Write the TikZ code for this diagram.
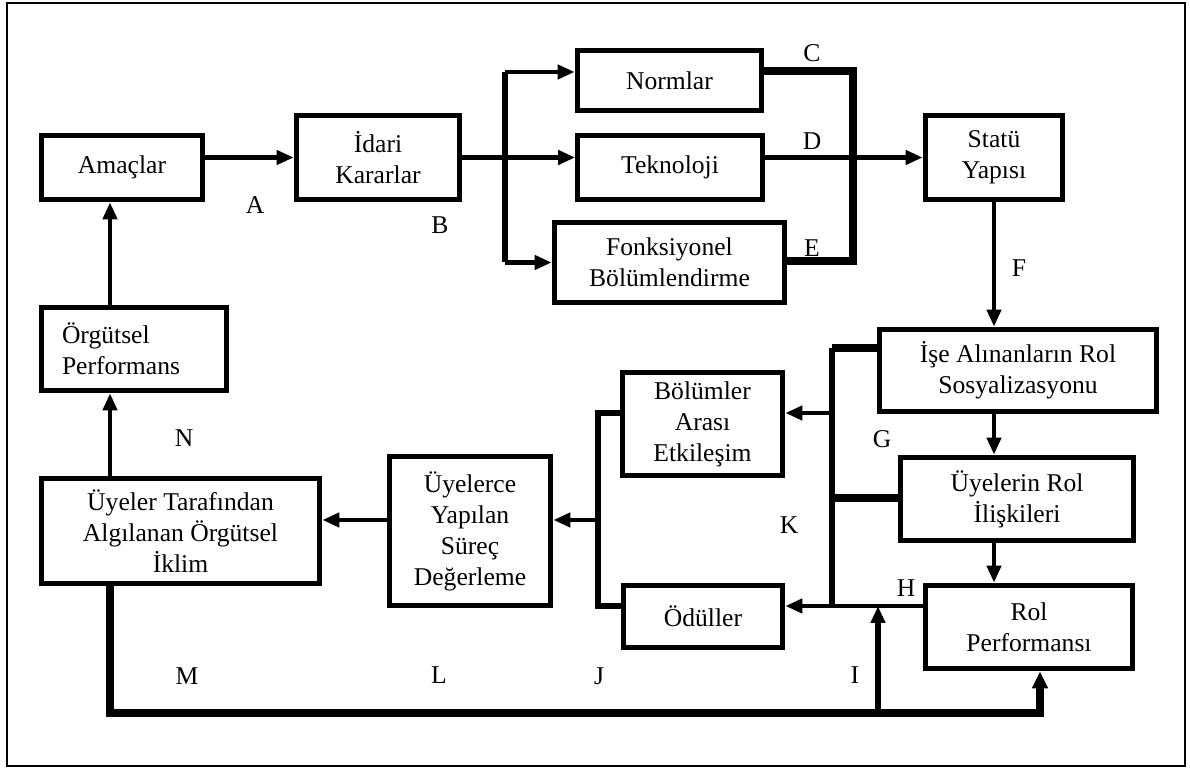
\documentclass[tikz,border=0pt]{standalone}
\usepackage{fontspec}
\setmainfont{Liberation Serif}
\usetikzlibrary{arrows.meta}
\begin{document}
\begin{tikzpicture}[x=0.5pt,y=-0.5pt,
  txt/.style={font=\fontsize{12.8pt}{15.5pt}\selectfont},
  box/.style={txt, draw, line width=2.6pt, inner sep=0pt, align=center},
  lbl/.style={txt, inner sep=0pt},
  arr/.style={line width=2.2pt, -{Triangle[length=8.5pt,width=7pt]}},
  bus/.style={line width=3pt},
  heavy/.style={line width=3.6pt}]
\useasboundingbox (0,0) rectangle (1190,769);
\draw[line width=0.75pt] (7,3) rectangle (1185,766);

% boxes
\node[box, minimum width=80.75pt, minimum height=32.25pt] (amac) at (122,167.5) {Amaçlar};
\node[box, minimum width=81.75pt, minimum height=42.25pt] (idari) at (378,157.5) {İdari\\Kararlar};
\node[box, minimum width=92.25pt, minimum height=30.25pt] (norm) at (669.5,80.5) {Normlar};
\node[box, minimum width=92.25pt, minimum height=32.25pt] (tekno) at (670,167.5) {Teknoloji};
\node[box, minimum width=115.25pt, minimum height=40.25pt] (fonk) at (669.5,262.5) {Fonksiyonel\\Bölümlendirme};
\node[box, minimum width=68.75pt, minimum height=42.25pt] (statu) at (994,157.5) {Statü\\Yapısı};
\node[box, minimum width=138.75pt, minimum height=41.25pt] (ise) at (1018,370.5) {İşe Alınanların Rol\\Sosyalizasyonu};
\node[box, minimum width=116.75pt, minimum height=41.75pt] (uyelerin) at (1017,499) {Üyelerin Rol\\İlişkileri};
\node[box, minimum width=103.75pt, minimum height=41.75pt] (rolp) at (1029,627) {Rol\\Performansı};
\node[box, minimum width=80.25pt, minimum height=51.75pt] (bolum) at (702.5,424) {Bölümler\\Arası\\Etkileşim};
\node[box, minimum width=79.75pt, minimum height=31.25pt] (odul) at (703,616.5) {Ödüller};
\node[box, minimum width=80.75pt, minimum height=74.75pt] (uyelerce) at (470,531) {Üyelerce\\Yapılan\\Süreç\\Değerleme};
\node[box, minimum width=139.25pt, minimum height=52.75pt] (iklim) at (180.5,531) {Üyeler Tarafından\\Algılanan Örgütsel\\İklim};
\node[box, minimum width=92.75pt, minimum height=41.75pt, text width=72pt, align=left] (orgut) at (134,349) {Örgütsel\\Performans};

% junction points
\coordinate (bt) at (505,72);
\coordinate (bb) at (505,262.5);
\coordinate (rt) at (853,71);
\coordinate (rb) at (853,261);
\coordinate (lt) at (832,348);
\coordinate (lm) at (832,498);
\coordinate (lb) at (832,606);
\coordinate (lbol) at (832,413);
\coordinate (jt) at (598,413);
\coordinate (jm) at (598,520);
\coordinate (jb) at (598,606);
\coordinate (hh) at (878,606);
\coordinate (ib) at (878,713);
\coordinate (ml) at (110,713);
\coordinate (mr) at (1040,713);

% top row
\draw[arr] (amac.east |- idari.east) -- (idari.west);
\draw[arr] (idari.east) -- (tekno.west |- idari.east);
\draw[bus] (bt) -- (bb);
\draw[arr] (bt) -- (norm.west |- bt);
\draw[arr] (bb) -- (fonk.west |- bb);
\draw[heavy] (norm.east |- rt) -- (rt) -- (rb) -- (fonk.east |- rb);
\draw[arr] (tekno.east |- statu.west) -- (statu.west);

% right column
\draw[arr] (statu.south) -- (statu.south |- ise.north);
\draw[arr] (statu.south |- ise.south) -- (statu.south |- uyelerin.north);
\draw[arr] (statu.south |- uyelerin.south) -- (statu.south |- rolp.north);

% feedback to the middle column
\draw[heavy] (ise.west |- lt) -- (lt);
\draw[heavy] (uyelerin.west |- lm) -- (lm);
\draw[line width=2.6pt] (lt) -- (lb);
\draw[arr] (lbol) -- (bolum.east |- lbol);
\draw[arr] (rolp.west |- lb) -- (odul.east |- lb);

% middle to left
\draw[bus] (bolum.west |- jt) -- (jt) -- (jb) -- (odul.west |- jb);
\draw[arr] (jm) -- (uyelerce.east |- jm);
\draw[arr] (uyelerce.west |- jm) -- (iklim.east |- jm);

% left column
\draw[arr] (iklim.north -| ml) -- (orgut.south -| ml);
\draw[arr] (orgut.north -| ml) -- (amac.south -| ml);

% bottom return line
\draw[heavy, -{Triangle[length=8.5pt,width=7.5pt]}] (iklim.south -| ml) -- (ml) -- (mr) -- (rolp.south -| mr);
\draw[line width=2.6pt, -{Triangle[length=8.5pt,width=7pt]}] (ib) -- (hh);

% letters
\node[lbl] (la) at (255,205) {A};
\node[lbl] (lB) at (440,225) {B};
\node[lbl] (lc) at (812,53) {C};
\node[lbl] (ld) at (812,141) {D};
\node[lbl] (le) at (812,248) {E};
\node[lbl] (lf) at (1019,268) {F};
\node[lbl] (lg) at (882,439) {G};
\node[lbl] (lh) at (906,588) {H};
\node[lbl] (li) at (855,675) {I};
\node[lbl] (lj) at (599,676) {J};
\node[lbl] (lk) at (789,525) {K};
\node[lbl] (ll) at (439,675) {L};
\node[lbl] (lm2) at (187,676) {M};
\node[lbl] (ln) at (184,438) {N};
\end{tikzpicture}
\end{document}
